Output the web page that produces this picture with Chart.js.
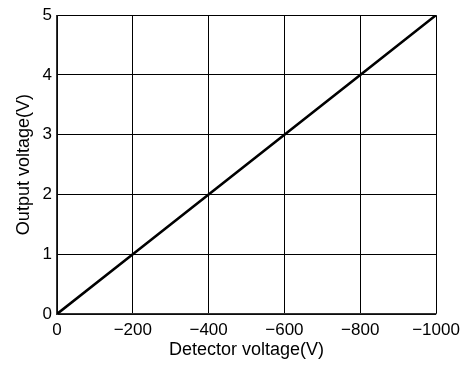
<!DOCTYPE html>
<html>
<head>
<meta charset="utf-8">
<script src="https://cdn.jsdelivr.net/npm/chart.js"></script>
<style>
  html, body { margin: 0; padding: 0; background: #fff; }
  #wrap { width: 475px; height: 365px; }
</style>
</head>
<body>
<div id="wrap"><canvas id="chart"></canvas></div>
<script>
// detector voltage (V) vs output voltage (V)
var detectorVoltage = [0, -200, -400, -600, -800, -1000];
var outputVoltage = [0, 1, 2, 3, 4, 5];
var xTicks = [0, -200, -400, -600, -800, -1000];
var yTicks = [0, 1, 2, 3, 4, 5];

var points = detectorVoltage.map(function (v, i) {
    return { x: v, y: outputVoltage[i] };
});

var font = 'Liberation Sans, Arial, Helvetica, sans-serif';

var ctx = document.getElementById('chart').getContext('2d');
var myChart = new Chart(ctx, {
    type: 'scatter',
    data: {
        datasets: [{
            data: points,
            showLine: true,
            borderColor: '#000',
            borderWidth: 2.6,
            pointRadius: 0,
            tension: 0
        }]
    },
    options: {
        responsive: true,
        maintainAspectRatio: false,
        animation: false,
        layout: { padding: { top: 13, right: 39, left: 0, bottom: 0 } },
        plugins: {
            legend: { display: false },
            tooltip: { enabled: false }
        },
        scales: {
            x: {
                type: 'linear',
                reverse: true,
                min: -1000,
                max: 0,
                afterBuildTicks: function (axis) {
                    axis.ticks = xTicks.map(function (v) { return { value: v }; });
                },
                afterFit: function (axis) { axis.height = 51; },
                grid: { color: '#000', lineWidth: 1, drawTicks: false },
                border: { color: '#333', width: 1.2 },
                ticks: {
                    color: '#000',
                    padding: 6,
                    maxRotation: 0,
                    font: { family: font, size: 17 },
                    callback: function (v) { return String(v).replace('-', '\u2212'); }
                },
                title: {
                    display: true,
                    text: 'Detector voltage(V)',
                    color: '#000',
                    padding: { top: 4, bottom: 4 },
                    font: { family: font, size: 18 }
                }
            },
            y: {
                min: 0,
                max: 5,
                afterBuildTicks: function (axis) {
                    axis.ticks = yTicks.map(function (v) { return { value: v }; });
                },
                afterFit: function (axis) { axis.width = 57; },
                grid: { color: '#000', lineWidth: 1, drawTicks: false },
                border: { color: '#333', width: 1.2 },
                ticks: {
                    color: '#000',
                    padding: 5,
                    font: { family: font, size: 17 }
                },
                title: {
                    display: true,
                    text: 'Output voltage(V)',
                    color: '#000',
                    padding: { top: 13, bottom: 13 },
                    font: { family: font, size: 18 }
                }
            }
        }
    }
});
</script>
</body>
</html>
